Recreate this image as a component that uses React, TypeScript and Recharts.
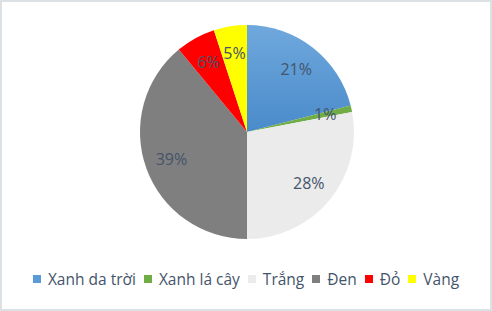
import React from 'react'
import { PieChart, Pie, Cell, Legend } from 'recharts'

const colorNames = ['Xanh da trời', 'Xanh lá cây', 'Trắng', 'Đen', 'Đỏ', 'Vàng']
const shares = [21, 1, 28, 39, 6, 5]
const sliceColors = ['url(#blueFill)', '#70AD47', '#EBEBEB', '#7F7F7F', '#FF0000', '#FFFF00']
const legendColors = ['#5B9BD5', '#70AD47', '#EBEBEB', '#7F7F7F', '#FF0000', '#FFFF00']

const data = colorNames.map((name, i) => ({ name, value: shares[i] }))

const RAD = Math.PI / 180
const textColor = '#44546A'
const font = '"Open Sans", "Noto Sans", sans-serif'

function renderLabel(props: any) {
  const { cx, cy, midAngle, outerRadius, value } = props
  const r = outerRadius * 0.75
  const x = cx + r * Math.cos(-midAngle * RAD)
  const y = cy + r * Math.sin(-midAngle * RAD)
  return (
    <text x={x} y={y} fill={textColor} fontSize={16} fontFamily={font} textAnchor="middle" dominantBaseline="central">
      {value}%
    </text>
  )
}

function renderLegend() {
  return (
    <div style={{ display: 'flex', justifyContent: 'center', alignItems: 'center', gap: 8, fontFamily: font, fontSize: 15.5, color: textColor }}>
      {colorNames.map((name, i) => (
        <div key={name} style={{ display: 'flex', alignItems: 'center', gap: 7 }}>
          <span style={{ width: 8, height: 8, background: legendColors[i], display: 'inline-block' }} />
          <span>{name}</span>
        </div>
      ))}
    </div>
  )
}

export default function App() {
  return (
    <div style={{ position: 'absolute', left: 0, top: 0, width: 492, height: 311, boxSizing: 'border-box', border: '2px solid #DCE1E6', background: '#fff' }}>
      <PieChart width={488} height={307} style={{ position: 'absolute', left: 0, top: 0 }}>
        <defs>
          <linearGradient id="blueFill" x1="0" y1="0" x2="0" y2="1">
            <stop offset="0%" stopColor="#6FA8DC" />
            <stop offset="100%" stopColor="#4A8BCB" />
          </linearGradient>
        </defs>
        <Pie
          data={data}
          dataKey="value"
          cx={240}
          cy={125}
          outerRadius={107}
          startAngle={90}
          endAngle={-270}
          stroke="none"
          label={renderLabel}
          labelLine={false}
          isAnimationActive={false}
        >
          {data.map((d, i) => (
            <Cell key={d.name} fill={sliceColors[i]} />
          ))}
        </Pie>
        <Legend content={renderLegend} wrapperStyle={{ top: 266, left: 0, width: 488 }} />
      </PieChart>
    </div>
  )
}
